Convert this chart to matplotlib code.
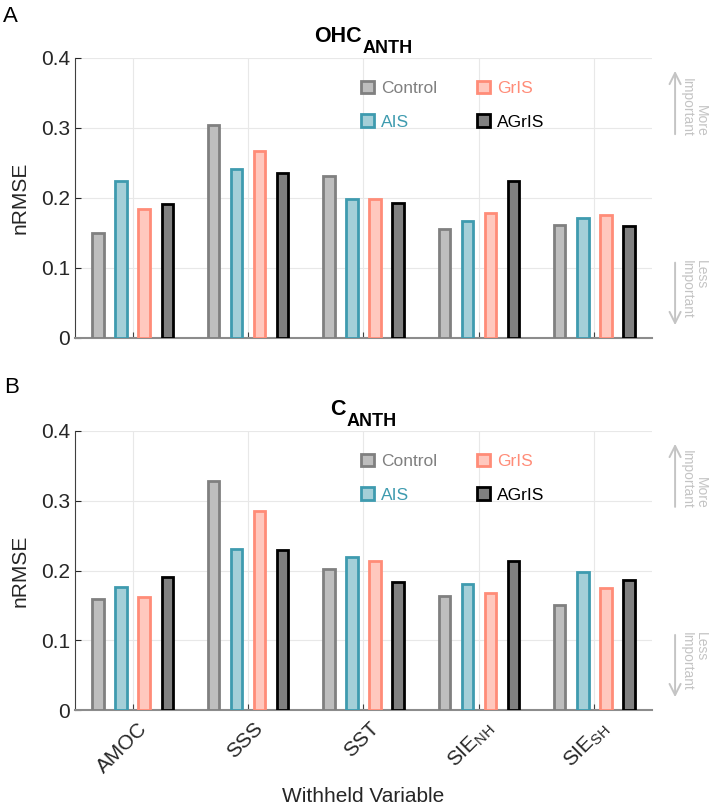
import matplotlib
matplotlib.use("Agg")
import matplotlib.pyplot as plt
import matplotlib.transforms as mtransforms
import numpy as np

plt.rcParams['font.family'] = ['Liberation Sans', 'DejaVu Sans']
plt.rcParams['mathtext.fontset'] = 'custom'
plt.rcParams['mathtext.rm'] = 'Liberation Sans'
plt.rcParams['mathtext.it'] = 'Liberation Sans:italic'
plt.rcParams['mathtext.bf'] = 'Liberation Sans:bold'

categories = ['AMOC', 'SSS', 'SST', r'SIE$_{\mathrm{NH}}$', r'SIE$_{\mathrm{SH}}$']
series = ['Control', 'AIS', 'GrIS', 'AGrIS']

ohc_control = [0.150, 0.304, 0.231, 0.156, 0.162]
ohc_ais = [0.224, 0.242, 0.198, 0.167, 0.172]
ohc_gris = [0.184, 0.267, 0.199, 0.178, 0.176]
ohc_agris = [0.191, 0.236, 0.193, 0.224, 0.160]

c_control = [0.159, 0.329, 0.202, 0.164, 0.150]
c_ais = [0.176, 0.231, 0.219, 0.180, 0.198]
c_gris = [0.162, 0.286, 0.213, 0.168, 0.175]
c_agris = [0.190, 0.230, 0.184, 0.214, 0.187]

edge_colors = ['#808080', '#3E9BAF', '#FF8C78', '#000000']
face_colors = ['#BEBEBE', '#A4CFD8', '#FFC8BE', '#808080']
label_colors = ['#808080', '#3E9BAF', '#FF8C78', '#000000']

fig = plt.figure(figsize=(7.09, 8.06), dpi=100)
axA = fig.add_axes([75/709, (806-338)/806, 577/709, 280/806])
axB = fig.add_axes([75/709, (806-710)/806, 577/709, 279/806])

x = np.arange(1, len(categories) + 1)
offsets = [-0.3, -0.1, 0.1, 0.3]
width = 0.1

title_parts = []

def draw(ax, data, title_main, title_sub, show_xlabels):
    handles = []
    for i, vals in enumerate(data):
        b = ax.bar(x + offsets[i], vals, width=width, color=face_colors[i],
                   edgecolor=edge_colors[i], linewidth=2.0, label=series[i], zorder=3)
        handles.append(b)
    ax.set_xlim(0.5, 5.5)
    ax.set_ylim(0, 0.4)
    ax.set_yticks([0, 0.1, 0.2, 0.3, 0.4])
    ax.set_yticklabels(['0', '0.1', '0.2', '0.3', '0.4'])
    ax.set_xticks(x)
    ax.grid(True, color='#E8E8E8', linewidth=0.8, zorder=0)
    ax.set_axisbelow(True)
    for s in ['top', 'right']:
        ax.spines[s].set_visible(False)
    ax.spines['left'].set_color('#404040')
    ax.spines['left'].set_linewidth(0.8)
    ax.spines['bottom'].set_color('#8C8C8C')
    ax.spines['bottom'].set_linewidth(1.5)
    ax.tick_params(axis='both', direction='in', length=4, labelsize=15, colors='#262626',
                   width=0.8)
    ax.tick_params(axis='x', pad=6, colors='#404040', labelcolor='#262626')
    if show_xlabels:
        ax.set_xticklabels(categories, rotation=45, ha='right', va='center',
                           rotation_mode='anchor')
        shift = mtransforms.ScaledTranslation(12/100, -7/100, fig.dpi_scale_trans)
        for lab in ax.get_xticklabels():
            lab.set_transform(lab.get_transform() + shift)
    else:
        ax.set_xticklabels([])
    ax.set_ylabel('nRMSE', fontsize=15, color='#262626', labelpad=8)
    # title with large, low subscript
    t1 = ax.text(0.5, 1.0, title_main, transform=ax.transAxes, fontsize=15.5,
                 fontweight='bold', ha='left', va='baseline')
    t2 = ax.text(0.5, 1.0, title_sub, transform=ax.transAxes, fontsize=13,
                 fontweight='bold', ha='left', va='baseline')
    title_parts.append((ax, t1, t2))
    ax.legend(handles, series,
              ncol=2, frameon=False, loc='upper left',
              bbox_to_anchor=(0.481, 0.95), fontsize=12.5,
              handlelength=0.75, handleheight=0.75, handletextpad=0.4,
              labelspacing=1.05, columnspacing=2.3, borderpad=0,
              labelcolor=label_colors)
    # importance arrows
    arrow_kw = dict(arrowstyle='->', color='#C4C4C4', lw=1.4, mutation_scale=20)
    ax.annotate('', xy=(1.040, 0.964), xytext=(1.040, 0.718), xycoords='axes fraction',
                arrowprops=arrow_kw, annotation_clip=False)
    ax.annotate('', xy=(1.040, 0.036), xytext=(1.040, 0.279), xycoords='axes fraction',
                arrowprops=arrow_kw, annotation_clip=False)
    ax.text(1.073, 0.72, 'More\nImportant', rotation=270, transform=ax.transAxes,
            ha='center', va='bottom', multialignment='right', fontsize=10,
            color='#C4C4C4', linespacing=1.0, clip_on=False)
    ax.text(1.073, 0.279, 'Less\nImportant', rotation=270, transform=ax.transAxes,
            ha='center', va='top', multialignment='left', fontsize=10,
            color='#C4C4C4', linespacing=1.0, clip_on=False)

draw(axA, [ohc_control, ohc_ais, ohc_gris, ohc_agris], 'OHC', 'ANTH', False)
draw(axB, [c_control, c_ais, c_gris, c_agris], 'C', 'ANTH', True)
axB.set_xlabel('Withheld Variable', fontsize=15, color='#262626', labelpad=8)

fig.text(3/709, 22/806, 'A', fontsize=16, color='#000000', va='baseline',
         transform=mtransforms.blended_transform_factory(fig.transFigure,
         mtransforms.Affine2D().scale(1, -1).translate(0, 1) + fig.transFigure))
fig.text(4/709, 1 - 393/806, 'B', fontsize=16, color='#000000', va='baseline')

# position the title pieces: centred over the axes, main baseline 16 px above top
fig.canvas.draw()
renderer = fig.canvas.get_renderer()
for ax, t1, t2 in title_parts:
    w1 = t1.get_window_extent(renderer).width
    w2 = t2.get_window_extent(renderer).width
    total = w1 + 1 + w2
    bb = ax.get_window_extent(renderer)
    cx = bb.x0 + bb.width / 2
    x0 = cx - total / 2
    inv = ax.transAxes.inverted()
    p1 = inv.transform((x0, bb.y1 + 16))
    p2 = inv.transform((x0 + w1 + 1, bb.y1 + 5))
    t1.set_position(p1)
    t2.set_position(p2)

fig.savefig('out.png', dpi=100)
